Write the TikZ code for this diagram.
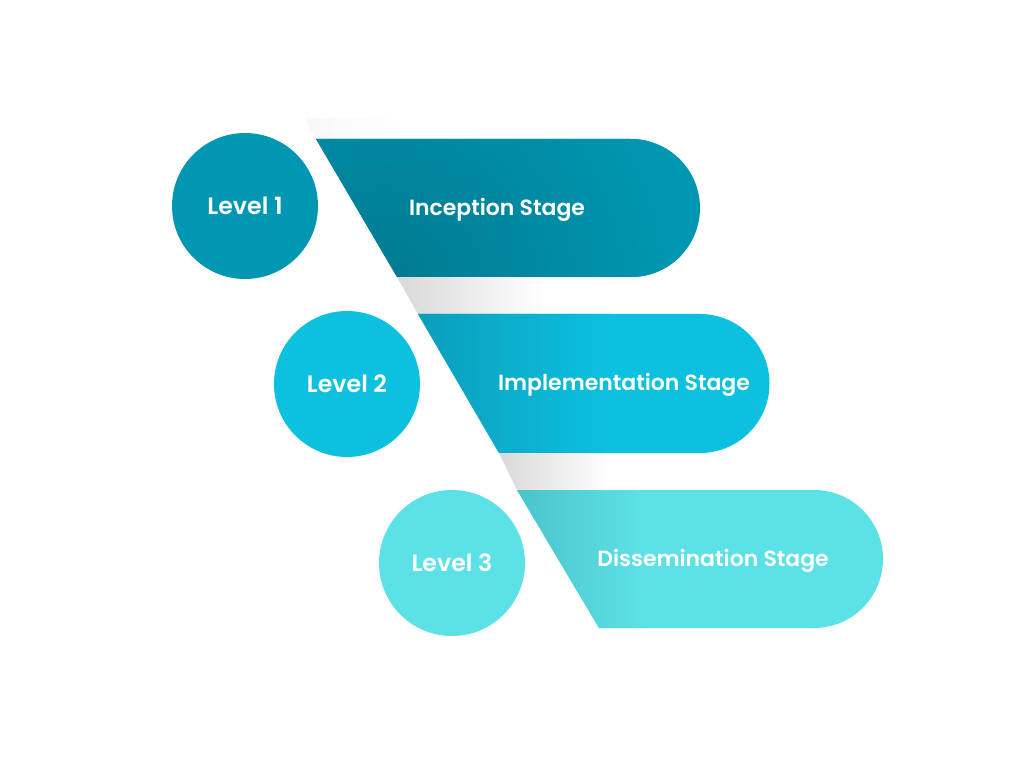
\documentclass[tikz,border=0pt]{standalone}
\usepackage{fontspec}
\setmainfont{Poppins}[BoldFont={Poppins SemiBold}]
\usepackage{xcolor}
\usepackage{tikz}
\usetikzlibrary{positioning}

\definecolor{tealA}{HTML}{0097B2}
\definecolor{tealAdark}{HTML}{007A90}
\definecolor{tealB}{HTML}{0CC0DF}
\definecolor{tealBdark}{HTML}{0A9EBC}
\definecolor{tealC}{HTML}{5CE1E6}
\definecolor{tealCdark}{HTML}{4AC4CA}

\tikzset{
  level/.style={circle, minimum size=2.92cm, inner sep=0pt, text=white,
    font=\bfseries\fontsize{13.5}{15}\selectfont},
  stagetext/.style={text=white, font=\bfseries\fontsize{12.5}{14}\selectfont},
  gapshadow/.style={left color=black!15, right color=white}
}

\begin{document}
\begin{tikzpicture}[x=0.02cm, y=0.02cm]
    \useasboundingbox (0,0) rectangle (1024,768);
    \fill[white] (0,0) rectangle (1024,768);

    % faint shadow above the first band
    \shade[left color=black!3, right color=white] (305,650) -- (400,650) -- (400,629) -- (316,629) -- cycle;
    % shadows in the gaps between bands
    \shade[gapshadow] (397,491) -- (545,491) -- (545,454) -- (418,454) -- cycle;
    \shade[gapshadow] (499,315) -- (610,315) -- (610,278) -- (517,278) -- cycle;

    % band 1
    \begin{scope}
        \clip (316,629) -- (631,629) arc (90:-90:69) -- (397,491) -- cycle;
        \fill[tealA] (300,480) rectangle (710,640);
        \shade[inner color=tealAdark, outer color=tealA] (385,485) circle (300);
    \end{scope}
    % band 2
    \begin{scope}
        \clip (418,454) -- (700,454) arc (90:-90:69.5) -- (499,315) -- cycle;
        \fill[tealB] (400,300) rectangle (780,470);
        \shade[left color=tealBdark, right color=tealB] (418,315) rectangle (610,454);
    \end{scope}
    % band 3
    \begin{scope}
        \clip (517,278) -- (814,278) arc (90:-90:69) -- (599,140) -- cycle;
        \fill[tealC] (500,130) rectangle (890,290);
        \shade[left color=tealCdark, right color=tealC] (517,140) rectangle (640,278);
    \end{scope}

    % levels
    \node[level, fill=tealA] (lev1) at (245,562) {Level 1};
    \node[level, fill=tealB] (lev2) at (347,384) {Level 2};
    \node[level, fill=tealC] (lev3) at (452,205) {Level 3};

    % stage labels
    \node[stagetext] (inc) at (497,558) {Inception Stage};
    \node[stagetext] (imp) at (624,383) {Implementation Stage};
    \node[stagetext] (dis) at (713,207) {Dissemination Stage};
\end{tikzpicture}
\end{document}
